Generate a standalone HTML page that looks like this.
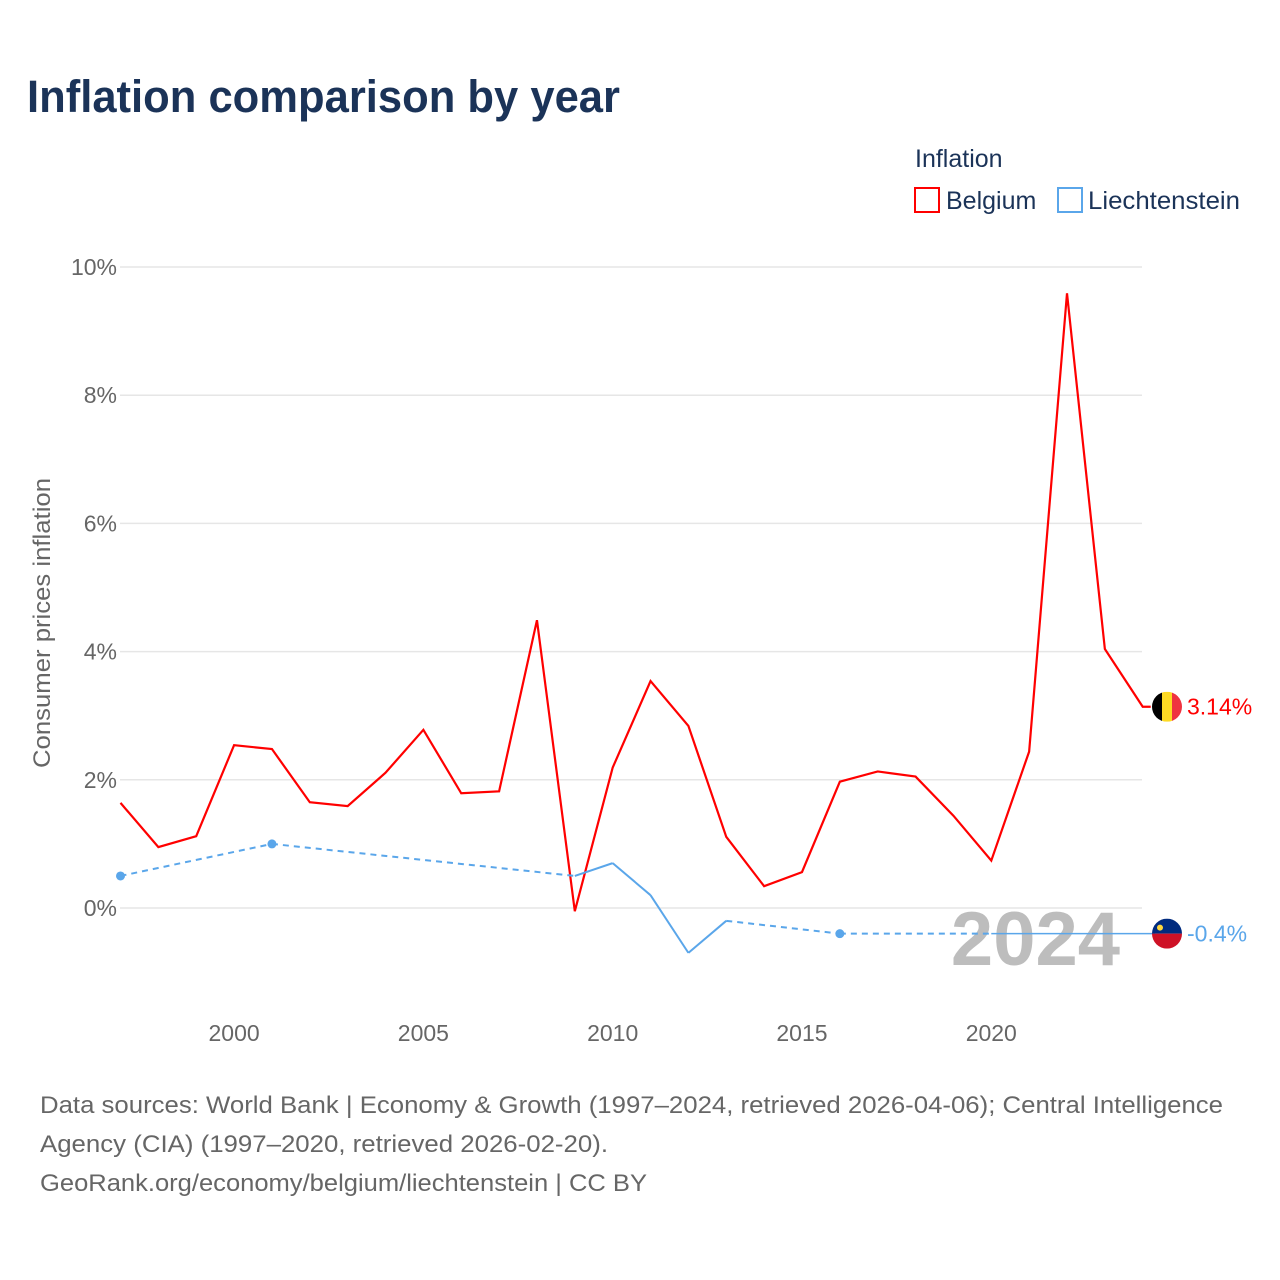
<!DOCTYPE html>
<html><head><meta charset="utf-8">
<style>
body{margin:0;background:#fff;font-family:"Liberation Sans",sans-serif;}
svg{display:block}
</style></head>
<body>
<svg id="chart" width="1280" height="1280" xmlns="http://www.w3.org/2000/svg">
<rect width="1280" height="1280" fill="#fff"/>
<text x="27" y="112" font-size="45" font-weight="bold" fill="#1b3358" textLength="593" lengthAdjust="spacingAndGlyphs">Inflation comparison by year</text>
<text x="915" y="167" font-size="25" fill="#1b3358">Inflation</text>
<g>
<rect x="915" y="188" width="24" height="24" fill="none" stroke="#f00" stroke-width="2"/>
<text x="946" y="209" font-size="25" fill="#1b3358">Belgium</text></g>
<g>
<rect x="1058" y="188" width="24" height="24" fill="none" stroke="#5aa6ea" stroke-width="2"/>
<text x="1088" y="209" font-size="25" fill="#1b3358" textLength="152" lengthAdjust="spacingAndGlyphs">Liechtenstein</text></g>
<text transform="translate(50,623) rotate(-90)" text-anchor="middle" font-size="24" fill="#666" textLength="290" lengthAdjust="spacingAndGlyphs">Consumer prices inflation</text>
<g id="grid"></g>
<text x="1120" y="965" text-anchor="end" font-size="76" font-weight="bold" fill="#bdbdbd">2024</text>
<g id="series"></g>
<g font-size="24" fill="#666">
<text x="40" y="1113" textLength="1183" lengthAdjust="spacingAndGlyphs">Data sources: World Bank | Economy &amp; Growth (1997–2024, retrieved 2026-04-06); Central Intelligence</text>
<text x="40" y="1152" textLength="568" lengthAdjust="spacingAndGlyphs">Agency (CIA) (1997–2020, retrieved 2026-02-20).</text>
<text x="40" y="1191" textLength="607" lengthAdjust="spacingAndGlyphs">GeoRank.org/economy/belgium/liechtenstein | CC BY</text>
</g>
</svg>
<script>
const years=[1997,1998,1999,2000,2001,2002,2003,2004,2005,2006,2007,2008,2009,2010,2011,2012,2013,2014,2015,2016,2017,2018,2019,2020,2021,2022,2023,2024];
const belgium=[1.64,0.95,1.12,2.54,2.48,1.65,1.59,2.11,2.78,1.79,1.82,4.49,-0.05,2.19,3.54,2.84,1.11,0.34,0.56,1.97,2.13,2.05,1.44,0.74,2.44,9.59,4.04,3.14];
const liechYears=[1997,2001,2009,2010,2011,2012,2013,2016,2020];
const liechtenstein=[0.5,1.0,0.5,0.7,0.2,-0.7,-0.2,-0.4,-0.4];
const yTicks=[0,2,4,6,8,10];
const xTicks=[2000,2005,2010,2015,2020];
const NS='http://www.w3.org/2000/svg';
const X=y=>120.5+(y-1997)*37.86;
const Y=v=>908-v*64.1;
function mk(tag,attrs,parent){const e=document.createElementNS(NS,tag);for(const k in attrs)e.setAttribute(k,attrs[k]);parent.appendChild(e);return e;}
const grid=document.getElementById('grid'),ser=document.getElementById('series');
yTicks.forEach(t=>{
 const l=mk('line',{x1:120,x2:1142,y1:Y(t),y2:Y(t),stroke:'#e6e6e6','stroke-width':1.5},grid);
 
 
 const tx=mk('text',{x:117,y:Y(t)+8,'text-anchor':'end','font-size':23,fill:'#666'},grid);
 tx.textContent=t+'%';
 
 
});
xTicks.forEach(t=>{
 const tx=mk('text',{x:X(t),y:1041,'text-anchor':'middle','font-size':23,fill:'#666'},grid);
 tx.textContent=t;
 
 
});
const bp=mk('polyline',{points:years.map((y,i)=>X(y)+','+Y(belgium[i])).join(' ')+' '+(X(2024)+8)+','+Y(belgium[27]),fill:'none',stroke:'#f00','stroke-width':2.2},ser);


const lc='#5aa6ea';
for(let i=0;i<liechYears.length-1;i++){
 const gap=liechYears[i+1]-liechYears[i]>1;
 const s=mk('line',{x1:X(liechYears[i]),y1:Y(liechtenstein[i]),x2:X(liechYears[i+1]),y2:Y(liechtenstein[i+1]),stroke:lc,'stroke-width':2,'stroke-dasharray':gap?'6,5':'none'},ser);
 
 
}
[0,1,7].forEach(i=>{
 const c=mk('circle',{cx:X(liechYears[i]),cy:Y(liechtenstein[i]),r:4.5,fill:lc},ser);
 
 
});
const lastL=liechtenstein[liechtenstein.length-1];
const ext=mk('line',{x1:X(2020),y1:Y(lastL),x2:1155,y2:Y(lastL),stroke:lc,'stroke-width':1.5},ser);


function flag(cy,kind,val,col,name){
 const g=mk('g',{},ser);
 
 
 const cx=1167,r=15;
 const id='clip'+kind;
 const cp=mk('clipPath',{id:id},g);mk('circle',{cx:cx,cy:cy,r:r},cp);
 const inner=mk('g',{'clip-path':'url(#'+id+')'},g);
 if(kind==='be'){mk('rect',{x:cx-r,y:cy-r,width:10,height:30,fill:'#000'},inner);mk('rect',{x:cx-5,y:cy-r,width:10,height:30,fill:'#fdda24'},inner);mk('rect',{x:cx+5,y:cy-r,width:10,height:30,fill:'#ef3340'},inner);}
 else{mk('rect',{x:cx-r,y:cy-r,width:30,height:15,fill:'#002b7f'},inner);mk('rect',{x:cx-r,y:cy,width:30,height:15,fill:'#ce1126'},inner);mk('circle',{cx:cx-7,cy:cy-6,r:3,fill:'#ffd83d'},inner);}
 const t=mk('text',{x:1187,y:cy+8,'font-size':23,fill:col},g);t.textContent=val;
}
flag(Y(belgium[27]),'be',belgium[27]+'%','#f00','belgium-end-label');
flag(Y(lastL),'li',lastL+'%',lc,'liechtenstein-end-label');
</script>
</body></html>
